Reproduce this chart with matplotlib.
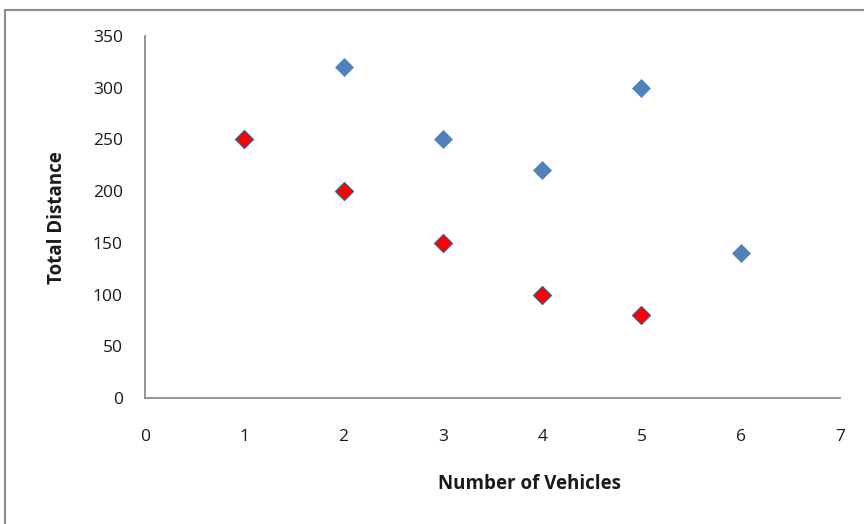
import matplotlib
matplotlib.use("Agg")
import matplotlib.pyplot as plt
from matplotlib.patches import Rectangle

# Series data
blue_x = [2, 3, 4, 5, 6]
blue_y = [320, 250, 220, 300, 140]
red_x = [1, 2, 3, 4, 5]
red_y = [250, 200, 150, 100, 80]

x_ticks = [0, 1, 2, 3, 4, 5, 6, 7]
y_ticks = [0, 50, 100, 150, 200, 250, 300, 350]

plt.rcParams['font.family'] = ['Open Sans', 'DejaVu Sans']

W, H = 864, 524
fig = plt.figure(figsize=(W / 100, H / 100), dpi=100)

# Outer chart frame
fig.patches.append(Rectangle((5 / W, -0.1), 2, 1 - 9.5 / H + 0.1,
                             transform=fig.transFigure, fill=False,
                             edgecolor='#8c8c8c', linewidth=1.5))

ax = fig.add_axes([145 / W, 1 - 398 / H, (840 - 145) / W, (398 - 36) / H])
ax.set_xlim(0, 7)
ax.set_ylim(0, 350)

ax.plot(blue_x, blue_y, linestyle='none', marker='D', markersize=9.5,
        color='#4F81BD', markeredgecolor='#4F81BD', markeredgewidth=0.5)
ax.plot(red_x, red_y, linestyle='none', marker='D', markersize=9,
        color='#FF0000', markeredgecolor='#3d5f9a', markeredgewidth=0.9)

ax.set_xticks(x_ticks)
ax.set_yticks(y_ticks)
ax.tick_params(length=0, labelsize=12.5, colors='#1a1a1a')
ax.tick_params(axis='x', pad=22)
ax.tick_params(axis='y', pad=16)

for side in ['top', 'right']:
    ax.spines[side].set_visible(False)
for side in ['left', 'bottom']:
    ax.spines[side].set_color('#8c8c8c')
    ax.spines[side].set_linewidth(1.3)

fig.text(530 / W, 1 - 484 / H, 'Number of Vehicles', ha='center', va='center',
         fontsize=13.5, fontweight='bold', color='#1a1a1a')
fig.text(57 / W, 1 - 218 / H, 'Total Distance', ha='center', va='center',
         rotation=90, fontsize=13.5, fontweight='bold', color='#1a1a1a')

fig.savefig('out.png', dpi=100)
